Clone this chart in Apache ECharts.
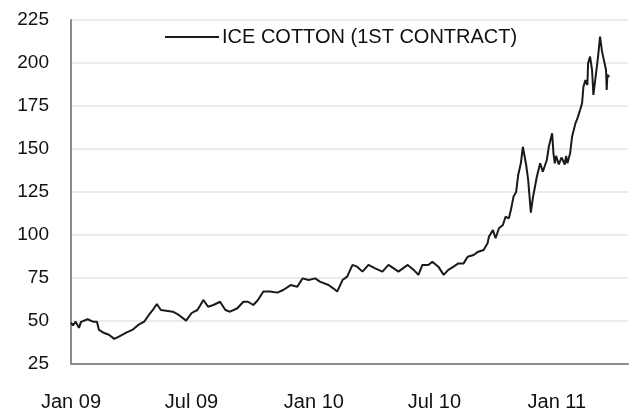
<!DOCTYPE html>
<html><head><meta charset="utf-8">
<script src="https://cdn.jsdelivr.net/npm/echarts@6/dist/echarts.min.js"></script>
<style>html,body{margin:0;padding:0;background:#fff}#c{width:632px;height:412px}</style>
</head><body><div id="c"></div>
<script>
const seriesName = 'ICE COTTON (1ST CONTRACT)';
const dates = ['2009-01-01','2009-01-04','2009-01-08','2009-01-13','2009-01-16','2009-01-19','2009-01-26','2009-02-03','2009-02-09','2009-02-12','2009-02-20','2009-02-27','2009-03-07','2009-03-14','2009-03-25','2009-04-04','2009-04-12','2009-04-21','2009-04-28','2009-05-04','2009-05-10','2009-05-16','2009-05-24','2009-06-03','2009-06-12','2009-06-23','2009-07-01','2009-07-05','2009-07-10','2009-07-19','2009-07-26','2009-08-03','2009-08-13','2009-08-21','2009-08-28','2009-09-08','2009-09-17','2009-09-24','2009-10-02','2009-10-09','2009-10-17','2009-10-27','2009-11-07','2009-11-16','2009-11-27','2009-12-07','2009-12-15','2009-12-24','2009-12-27','2010-01-03','2010-01-10','2010-01-23','2010-01-30','2010-02-05','2010-02-13','2010-02-20','2010-02-28','2010-03-07','2010-03-15','2010-03-24','2010-04-03','2010-04-14','2010-04-23','2010-05-01','2010-05-08','2010-05-22','2010-05-31','2010-06-07','2010-06-13','2010-06-22','2010-06-28','2010-07-07','2010-07-15','2010-07-22','2010-07-30','2010-08-06','2010-08-14','2010-08-20','2010-08-29','2010-09-05','2010-09-13','2010-09-19','2010-09-21','2010-09-27','2010-10-01','2010-10-06','2010-10-12','2010-10-16','2010-10-21','2010-10-24','2010-10-28','2010-11-01','2010-11-04','2010-11-08','2010-11-11','2010-11-16','2010-11-19','2010-11-23','2010-11-26','2010-12-02','2010-12-07','2010-12-11','2010-12-17','2010-12-20','2010-12-25','2010-12-27','2010-12-29','2010-12-31','2011-01-02','2011-01-04','2011-01-06','2011-01-08','2011-01-10','2011-01-13','2011-01-15','2011-01-17','2011-01-21','2011-01-24','2011-01-29','2011-02-01','2011-02-05','2011-02-08','2011-02-10','2011-02-13','2011-02-16','2011-02-17','2011-02-20','2011-02-23','2011-02-25','2011-03-01','2011-03-04','2011-03-07','2011-03-10','2011-03-11','2011-03-16','2011-03-17','2011-03-18','2011-03-21'];
const prices = [49,47.5,49.6,46,49.5,48.8,51,49.6,49.6,44.8,43,42,39.6,40.9,43.2,45,47.7,49.6,53.5,56.4,59.9,56.4,56,55.4,53.5,50.2,54.5,55.4,56.4,62.2,58.3,59.3,61.2,56.4,55.4,57.4,61.2,61.2,59.3,62.2,67.1,67.1,66.5,68,70.9,69.9,74.8,73.8,74.8,74.8,72.9,70.9,69,67.1,73.8,75.8,82.6,81.6,78.7,82.6,80.6,78.7,82.6,80.6,78.7,82.6,79.7,76.8,82.6,82.6,84.5,81.6,76.8,79.7,81.6,83.5,83.5,87.4,88.4,90.3,91.3,95.2,99,102.9,98.1,103.9,105.8,110.6,109.7,114.5,122.3,125.2,134.9,141.7,151.3,140.7,132,113,121.5,133.9,141.7,136.8,143.6,151.3,159.1,147.5,141.7,146,145.5,141,141.7,145,143.6,141,146,141.7,147.5,157.2,164.9,167.8,172.7,176.6,186.2,190.1,187.2,199.8,203.7,195.9,181.4,194,203.7,215.3,206.6,205.6,195.9,184.3,193,192];
const xTickDates = ['2009-01-01','2009-07-01','2010-01-01','2010-07-01','2011-01-01'];
const xTickLabels = ['Jan 09','Jul 09','Jan 10','Jul 10','Jan 11'];
const xMin = '2009-01-01', xMax = '2011-04-18';
const yMin = 25, yMax = 225, yStep = 25;

const ts = d => { const p = d.split('-').map(Number); return Date.UTC(p[0], p[1]-1, p[2]); };
const tickTs = xTickDates.map(ts);
const data = dates.map((d, i) => [ts(d), prices[i]]);
const font = '"Liberation Sans", Arial, Helvetica, sans-serif';

const chart = echarts.init(document.getElementById('c'), null, {renderer: 'canvas'});
chart.setOption({
  animation: false,
  backgroundColor: '#fff',
  grid: {left: 71, right: 4, top: 20, bottom: 47, containLabel: false},
  legend: {
    show: true, left: 160, top: 22, itemWidth: 54, itemHeight: 2, icon: 'rect', itemGap: 4,
    data: [{name: seriesName, itemStyle: {color: '#1a1a1a'}}],
    textStyle: {fontFamily: font, fontSize: 20, color: '#111', padding: [0, 0, 0, -2]}
  },
  xAxis: {
    type: 'value', min: ts(xMin), max: ts(xMax),
    axisLine: {show: true, lineStyle: {color: '#8a8a8a', width: 2}},
    axisTick: {show: false},
    splitLine: {show: false},
    axisLabel: {
      customValues: tickTs,
      formatter: v => { const k = tickTs.indexOf(v); return k >= 0 ? xTickLabels[k] : ''; },
      fontFamily: font, fontSize: 20, color: '#111', margin: 28
    }
  },
  yAxis: {
    type: 'value', min: yMin, max: yMax, interval: yStep,
    axisLine: {show: true, lineStyle: {color: '#8a8a8a', width: 2}},
    axisTick: {show: false},
    splitLine: {show: true, lineStyle: {color: '#e4e4e4', width: 1.5}},
    axisLabel: {fontFamily: font, fontSize: 19, color: '#111', margin: 22}
  },
  series: [{
    name: seriesName, type: 'line', data: data, showSymbol: false, symbol: 'none',
    lineStyle: {color: '#1a1a1a', width: 2}, itemStyle: {color: '#1a1a1a'}
  }]
});
</script></body></html>
